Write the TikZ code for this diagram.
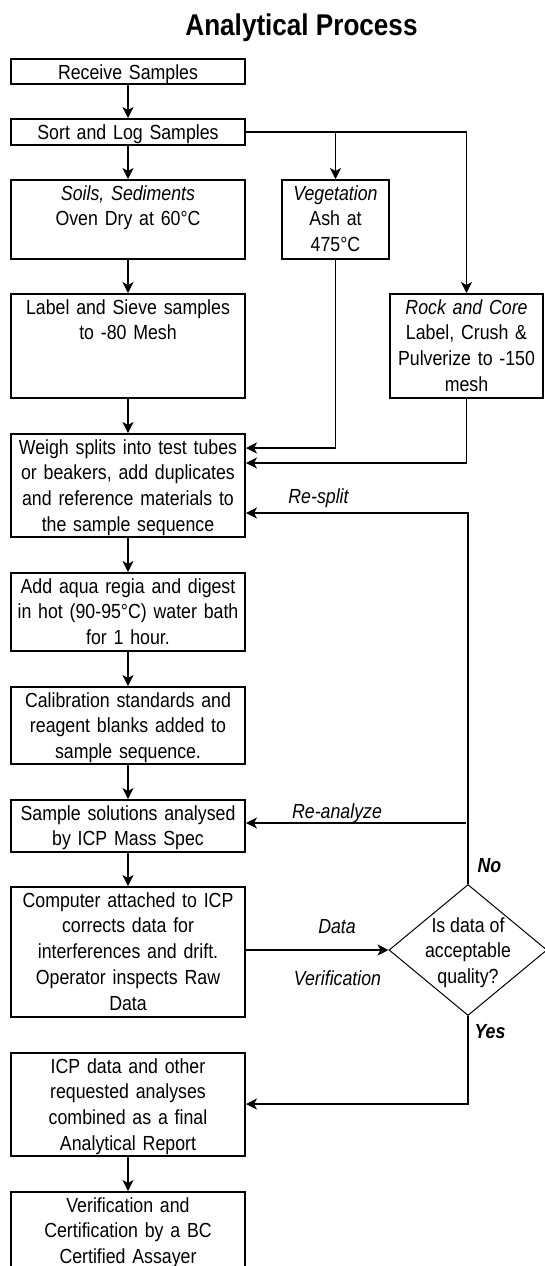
\documentclass[tikz,border=0pt]{standalone}
\usepackage{fontspec}
\setmainfont{Liberation Sans}[FakeStretch=0.87]
\usetikzlibrary{arrows.meta,shapes.geometric}

\begin{document}
\begin{tikzpicture}[x=1pt,y=-1pt,
  font=\fontsize{20.4}{25.8}\selectfont,
  procbox/.style={draw, line width=2pt, anchor=north, align=center,
    inner xsep=2pt, inner ysep=4pt, text height=16pt},
  mainbox/.style={procbox, text width=230pt},
  decision/.style={draw, diamond, line width=1pt, minimum width=158pt,
    minimum height=131pt, inner sep=0pt, text height=0pt, text depth=0pt},
  conn/.style={line width=1.1pt},
  arr/.style={conn, -{Stealth[length=11pt,width=11pt,inset=3pt]}},
  tag/.style={anchor=base, font=\fontsize{20.4}{25.8}\selectfont\itshape},
  answer/.style={anchor=base, font=\fontsize{20.4}{25.8}\selectfont\bfseries\itshape}]
\useasboundingbox (0,0) rectangle (545,1266);
\clip (0,0) rectangle (545,1266);

\node[anchor=base, font=\fontsize{30}{36}\selectfont\bfseries] (title) at (301.5,35) {Analytical Process};

% left column
\node[mainbox, text depth=1pt] (rec) at (128,58) {Receive Samples};
\node[mainbox, text depth=2pt] (sort) at (128,118) {Sort and Log Samples};
\node[mainbox, text depth=55pt] (soils) at (128,179) {\textit{Soils, Sediments}\\Oven Dry at 60°C};
\node[mainbox, text depth=80pt] (sieve) at (128,293) {Label and Sieve samples\\to -80 Mesh};
\node[mainbox, text depth=79pt] (weigh) at (128,433) {Weigh splits into test tubes\\or beakers, add duplicates\\and reference materials to\\the sample sequence};
\node[mainbox, text depth=54pt] (digest) at (128,572) {Add aqua regia and digest\\in hot (90-95°C) water bath\\for 1 hour.};
\node[mainbox, text depth=53pt] (calib) at (128,686) {Calibration standards and\\reagent blanks added to\\sample sequence.};
\node[mainbox, text depth=28pt] (icpms) at (128,799) {Sample solutions analysed\\by ICP Mass Spec};
\node[mainbox, text depth=106pt] (comp) at (128,886) {Computer attached to ICP\\corrects data for\\interferences and drift.\\Operator inspects Raw\\Data};
\node[mainbox, text depth=79pt] (report) at (128,1052) {ICP data and other\\requested analyses\\combined as a final\\Analytical Report};
\node[mainbox, text depth=55pt] (cert) at (128,1191) {Verification and\\Certification by a BC\\Certified Assayer};

% side branches
\node[procbox, text width=103pt, text depth=55pt] (veg) at (335.5,179) {\textit{Vegetation}\\Ash at\\475°C};
\node[procbox, text width=149pt, text depth=80pt] (rock) at (466.5,293) {\textit{Rock and Core}\\Label, Crush \&\\Pulverize to -150\\mesh};

% quality check
\node[decision] (qual) at (468,950) {\raisebox{-8pt}{\makebox[0pt]{\begin{tabular}{@{}c@{}}Is data of\\acceptable\\quality?\end{tabular}}}};

\draw[arr] (rec) -- (sort);
\draw[arr] (sort) -- (soils);
\draw[arr] (soils) -- (sieve);
\draw[arr] (sieve) -- (weigh);
\draw[arr] (weigh) -- (digest);
\draw[arr] (digest) -- (calib);
\draw[arr] (calib) -- (icpms);
\draw[arr] (icpms) -- (comp);
\draw[arr] (report) -- (cert);

\draw[arr] (sort.east) -| (rock.north);
\draw[arr] (veg.north |- sort.east) -- (veg.north);
\draw[arr] (veg.south) |- (weigh.east |- 0,448);
\draw[arr] (rock.south) |- (weigh.east |- 0,463);

\draw[arr] (comp.east |- qual.west) -- (qual.west);
\draw[arr] (qual.north) |- (weigh.east |- 0,513);
\coordinate (recheck) at (466,823);
\draw[arr] (recheck) -- (icpms.east |- recheck);
\draw[arr] (qual.south) |- (report.east |- 0,1104);

\node[tag] (resplit) at (318.5,503) {Re-split};
\node[tag] (reanalyze) at (337,818) {Re-analyze};
\node[tag] (data) at (337,933) {Data};
\node[tag] (verif) at (337.5,985) {Verification};
\node[answer] (no) at (489.5,872) {No};
\node[answer] (yes) at (490,1038) {Yes};
\end{tikzpicture}
\end{document}
